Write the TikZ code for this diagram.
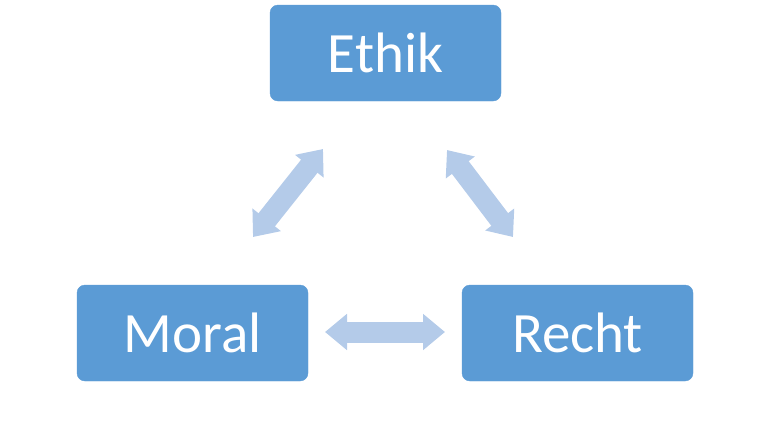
\documentclass[tikz,border=0pt]{standalone}
\usepackage{fontspec}
\setmainfont{Carlito}
\usetikzlibrary{arrows.meta}
\definecolor{boxblue}{HTML}{5B9BD5}
\definecolor{arrowblue}{HTML}{B4CBE9}
\tikzset{
  box/.style={fill=boxblue, draw=boxblue, rounded corners=8pt, minimum width=231pt, minimum height=96pt, text=white, font=\fontsize{57}{68}\selectfont, inner sep=0pt},
  dblarrow/.style={draw=arrowblue, line width=21pt, {Triangle[length=22pt,width=35pt]}-{Triangle[length=22pt,width=35pt]}, arrowblue}
}
\begin{document}
\begin{tikzpicture}[x=1pt,y=-1pt]
\useasboundingbox (0,0) rectangle (768,432);
\node[box] (ethik) at (385.5,53) {Ethik};
\node[box] (moral) at (192.5,333) {Moral};
\node[box] (recht) at (577.5,333) {Recht};
\coordinate (a1) at (253,237);
\coordinate (a2) at (323,149);
\coordinate (b1) at (447,150);
\coordinate (b2) at (513,237);
\coordinate (c1) at (325,332);
\coordinate (c2) at (445,332);
\draw[dblarrow] (a1) -- (a2);
\draw[dblarrow] (b1) -- (b2);
\draw[dblarrow] (c1) -- (c2);
\end{tikzpicture}
\end{document}
